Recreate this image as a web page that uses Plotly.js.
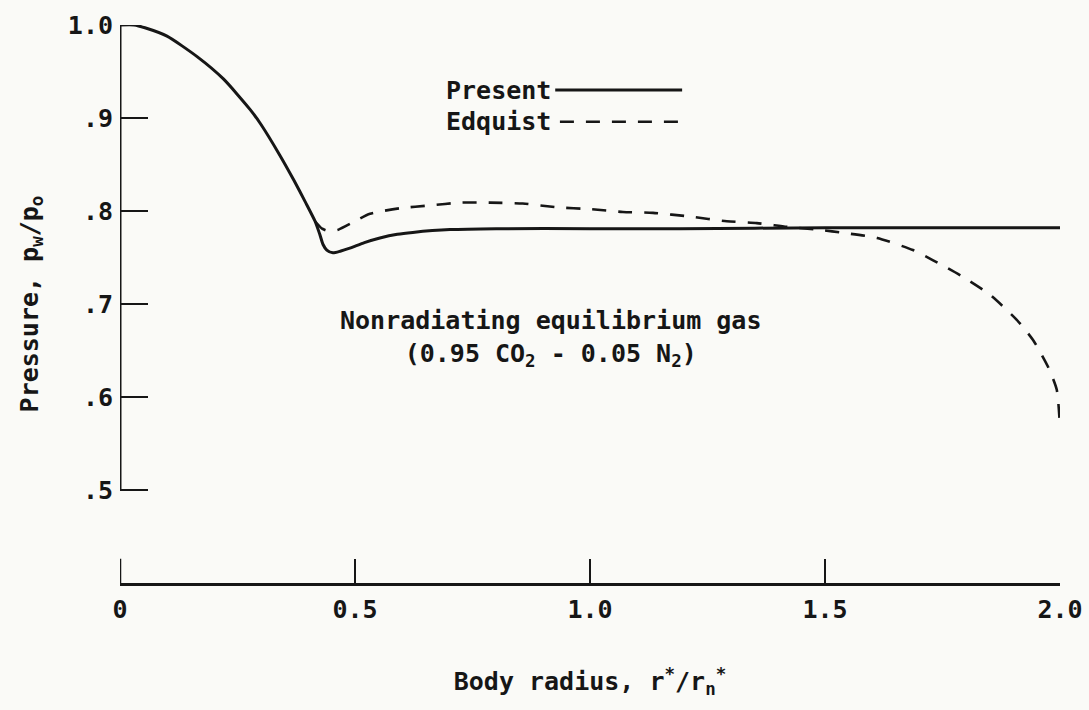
<!DOCTYPE html>
<html>
<head>
<meta charset="utf-8">
<script src="https://cdn.plot.ly/plotly-3.0.1.min.js"></script>
<style>html,body{margin:0;padding:0;background:#fafaf7;}#chart{width:1089px;height:710px;}</style>
</head>
<body>
<div id="chart"></div>
<script>
// Present (solid) curve
const presentX = [0, 0.03, 0.053, 0.1, 0.164, 0.22, 0.277, 0.3, 0.34, 0.37, 0.395, 0.415, 0.425, 0.432, 0.44, 0.453, 0.47, 0.489, 0.52, 0.553, 0.59, 0.623, 0.702, 0.8, 1.0, 1.191, 1.5, 2.0];
const presentY = [1.0, 1.0, 0.997, 0.988, 0.966, 0.942, 0.909, 0.893, 0.860, 0.833, 0.809, 0.789, 0.775, 0.764, 0.758, 0.755, 0.757, 0.760, 0.766, 0.771, 0.775, 0.777, 0.780, 0.781, 0.781, 0.781, 0.782, 0.782];
// Edquist (dashed) curve
const edquistX = [0.415, 0.43, 0.447, 0.465, 0.5, 0.532, 0.596, 0.66, 0.723, 0.787, 0.857, 0.93, 1.0, 1.07, 1.134, 1.213, 1.291, 1.355, 1.419, 1.483, 1.547, 1.611, 1.687, 1.73, 1.794, 1.851, 1.908, 1.943, 1.975, 1.993, 2.0];
const edquistY = [0.789, 0.781, 0.778, 0.780, 0.789, 0.797, 0.803, 0.806, 0.809, 0.809, 0.808, 0.804, 0.802, 0.799, 0.798, 0.794, 0.789, 0.787, 0.783, 0.780, 0.776, 0.771, 0.758, 0.747, 0.729, 0.710, 0.683, 0.661, 0.632, 0.608, 0.568];
// Tick values and labels
const xTickVals = [0, 0.5, 1.0, 1.5, 2.0];
const xTickText = ["0", "0.5", "1.0", "1.5", "2.0"];
const yTickVals = [0.5, 0.6, 0.7, 0.8, 0.9, 1.0];
const yTickText = [".5", ".6", ".7", ".8", ".9", "1.0"];
const seriesNames = ["Present", "Edquist"];

const ink = '#161616';
const FONT = '"DejaVu Sans Mono", "Liberation Mono", monospace';
const f = (s) => ({family: FONT, size: s, color: ink, weight: 'bold'});

const traces = [
  {x: presentX, y: presentY, name: seriesNames[0], type: 'scatter', mode: 'lines',
   line: {color: ink, width: 3, shape: 'spline', smoothing: 0.6}, showlegend: false, hoverinfo: 'skip'},
  {x: edquistX, y: edquistY, name: seriesNames[1], type: 'scatter', mode: 'lines',
   line: {color: ink, width: 2.6, dash: '14px,12px', shape: 'spline', smoothing: 0.6}, showlegend: false, hoverinfo: 'skip'}
];

const layout = {
  width: 1089, height: 710,
  paper_bgcolor: '#fafaf7', plot_bgcolor: '#fafaf7',
  margin: {l: 120, r: 29, t: 25, b: 127},
  font: f(25),
  showlegend: false,
  xaxis: {
    range: [0, 2], tickvals: xTickVals, ticktext: xTickText,
    ticks: 'inside', ticklen: 24, tickwidth: 2, tickcolor: ink,
    showline: true, linewidth: 3, linecolor: ink, mirror: false,
    showgrid: false, zeroline: false, ticklabelstandoff: 2,
    tickfont: f(25),
    title: {text: 'Body radius, r<sup>*</sup>/r<sub>n</sub><sup>*</sup>', font: f(25), standoff: 50}
  },
  yaxis: {
    range: [0.4, 1.0], tickvals: yTickVals, ticktext: yTickText,
    ticks: 'inside', ticklen: 28, tickwidth: 2, tickcolor: ink,
    showline: false, showgrid: false, zeroline: false, ticklabelstandoff: 6,
    tickfont: f(25),
    title: {text: 'Pressure, p<sub>w</sub>/p<sub>o</sub>', font: f(25), standoff: 22}
  },
  shapes: [
    // left axis line (drawn only from .5 to 1.0 as in original)
    {type: 'line', xref: 'x', yref: 'y', x0: 0, x1: 0, y0: 0.5, y1: 1.0, line: {color: ink, width: 3}},
    // short upright tick at x = 0 on the bottom axis
    {type: 'line', xref: 'x', yref: 'y', x0: 0, x1: 0, y0: 0.4, y1: 0.426, line: {color: ink, width: 2.5}},
    // legend samples
    {type: 'line', xref: 'x', yref: 'y', x0: 0.926, x1: 1.196, y0: 0.930, y1: 0.930, line: {color: ink, width: 3}},
    {type: 'line', xref: 'x', yref: 'y', x0: 0.936, x1: 1.202, y0: 0.896, y1: 0.896, line: {color: ink, width: 2.6, dash: '14px,12px'}}
  ],
  annotations: [
    {xref: 'x', yref: 'y', x: 0.921, y: 0.930, xanchor: 'right', yanchor: 'middle', text: seriesNames[0], showarrow: false, font: f(25)},
    {xref: 'x', yref: 'y', x: 0.921, y: 0.896, xanchor: 'right', yanchor: 'middle', text: seriesNames[1], showarrow: false, font: f(25)},
    {xref: 'x', yref: 'y', x: 0.917, y: 0.663, xanchor: 'center', yanchor: 'middle', align: 'center',
     text: 'Nonradiating equilibrium gas<br>(0.95 CO<sub>2</sub> - 0.05 N<sub>2</sub>)', showarrow: false, font: f(25)}
  ]
};

Plotly.newPlot('chart', traces, layout, {displayModeBar: false, staticPlot: true});
</script>
</body>
</html>
